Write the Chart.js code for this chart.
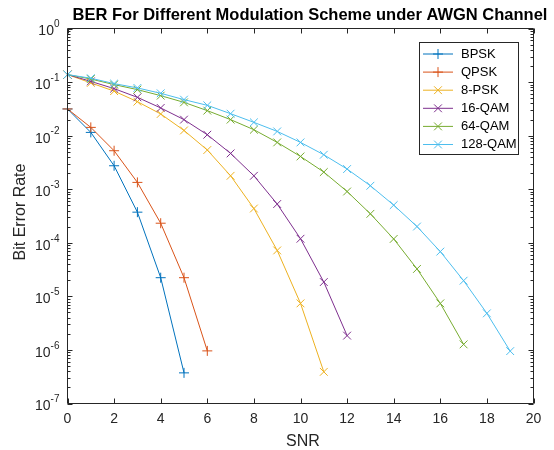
<!DOCTYPE html>
<html><head><meta charset="utf-8">
<script src="https://cdn.jsdelivr.net/npm/chart.js@4.4.0/dist/chart.umd.min.js"></script>
<style>html,body{margin:0;padding:0;background:#fff;overflow:hidden}</style>
</head><body>
<canvas id="c" width="554" height="450"></canvas>
<script>
// ---- data ----
const snr = [0,1,2,3,4,5,6,7,8,9,10,11,12,13,14,15,16,17,18,19];
const seriesNames = ['BPSK','QPSK','8-PSK','16-QAM','64-QAM','128-QAM'];
const bpsk   = [0.0315,0.0115,0.00274,3.73e-4,2.23e-5,3.73e-7];
const qpsk   = [0.0315,0.01426,0.00523,1.34e-3,2.32e-4,2.23e-5,9.6e-7];
const psk8   = [0.138,0.0965,0.0678,0.0431,0.0254,0.0125,0.00539,0.00178,4.36e-4,7.2e-5,7.4e-6,3.9e-7];
const qam16  = [0.138,0.103,0.0755,0.0519,0.0329,0.0199,0.0104,0.00466,0.00178,5.29e-4,1.19e-4,1.85e-5,1.85e-6];
const qam64  = [0.138,0.114,0.0897,0.0723,0.0558,0.0418,0.0293,0.0199,0.0129,0.00748,0.00409,0.00209,9.06e-4,3.47e-4,1.18e-4,3.25e-5,7.4e-6,1.27e-6];
const qam128 = [0.138,0.118,0.0936,0.0778,0.0617,0.047,0.0368,0.0257,0.0177,0.0120,0.00748,0.0044,0.00238,1.16e-3,5.05e-4,2.01e-4,6.84e-5,1.96e-5,4.82e-6,9.5e-7];
const xTicks = [0,2,4,6,8,10,12,14,16,18,20];
const yExponents = [0,-1,-2,-3,-4,-5,-6,-7];
const titleText = 'BER For Different Modulation Scheme under AWGN Channel';
const xLabel = 'SNR';
const yLabel = 'Bit Error Rate';

const allSeries = [bpsk,qpsk,psk8,qam16,qam64,qam128];
const colors = ['#0072BD','#D95319','#EDB120','#7E2F8E','#77AC30','#4DBEEE'];
const markers = ['cross','cross','crossRot','crossRot','crossRot','crossRot'];
const FONT = '"Liberation Sans", Arial, Helvetica, sans-serif';

function drawMarker(ctx, style, x, y, r){
  ctx.beginPath();
  if(style==='cross'){
    ctx.moveTo(x-r,y); ctx.lineTo(x+r,y); ctx.moveTo(x,y-r); ctx.lineTo(x,y+r);
  } else {
    const d=r*0.7071;
    ctx.moveTo(x-d,y-d); ctx.lineTo(x+d,y+d); ctx.moveTo(x-d,y+d); ctx.lineTo(x+d,y-d);
  }
  ctx.stroke();
}

const axesPlugin = {
  id:'matlabAxes',
  afterDraw(chart){
    const ctx=chart.ctx, a=chart.chartArea, xs=chart.scales.x, ys=chart.scales.y;
    ctx.save();
    ctx.strokeStyle='#262626'; ctx.lineWidth=1;
    ctx.beginPath();
    ctx.rect(a.left, a.top, a.right-a.left, a.bottom-a.top);
    xTicks.forEach(v=>{
      const px=Math.round(xs.getPixelForValue(v))+0.5;
      ctx.moveTo(px,a.bottom); ctx.lineTo(px,a.bottom-5);
      ctx.moveTo(px,a.top); ctx.lineTo(px,a.top+5);
    });
    yExponents.forEach(e=>{
      const py=Math.round(ys.getPixelForValue(Math.pow(10,e)))+0.5;
      ctx.moveTo(a.left,py); ctx.lineTo(a.left+5,py);
      ctx.moveTo(a.right,py); ctx.lineTo(a.right-5,py);
      if(e>-7){
        for(let m=2;m<=9;m++){
          const q=Math.round(ys.getPixelForValue(m*Math.pow(10,e-1)))+0.5;
          ctx.moveTo(a.left,q); ctx.lineTo(a.left+3,q);
          ctx.moveTo(a.right,q); ctx.lineTo(a.right-3,q);
        }
      }
    });
    ctx.stroke();

    // tick labels
    ctx.fillStyle='#262626';
    ctx.textBaseline='middle';
    ctx.textAlign='center';
    ctx.font='14px '+FONT;
    xTicks.forEach(v=>{
      ctx.fillText(String(v), xs.getPixelForValue(v), 419.5);
    });
    yExponents.forEach(e=>{
      const py=ys.getPixelForValue(Math.pow(10,e));
      const right=a.left-8;
      ctx.font='10px '+FONT;
      ctx.textAlign='right';
      const expStr = e===0 ? '0' : '-'+String(-e);
      const ew=ctx.measureText(expStr).width;
      ctx.fillText(expStr, right, py-4);
      ctx.font='14px '+FONT;
      ctx.fillText('10', right-ew, py+3);
    });

    // axis titles
    ctx.textAlign='center';
    ctx.font='16px '+FONT;
    ctx.fillText(xLabel, 303, 442);
    ctx.save();
    ctx.translate(21, 212);
    ctx.rotate(-Math.PI/2);
    ctx.fillText(yLabel, 0, 0);
    ctx.restore();

    // title
    ctx.fillStyle='#000';
    ctx.font='bold 16.5px '+FONT;
    ctx.fillText(titleText, 310, 15);

    // legend
    const lx=419.5, ly=42.5, lw=99, lh=112;
    ctx.fillStyle='#fff';
    ctx.fillRect(lx,ly,lw,lh);
    ctx.strokeStyle='#262626';
    ctx.strokeRect(lx,ly,lw,lh);
    ctx.font='13px '+FONT;
    ctx.textAlign='left';
    seriesNames.forEach((n,i)=>{
      const y=54+i*18.1;
      ctx.strokeStyle=colors[i]; ctx.lineWidth=1;
      ctx.beginPath(); ctx.moveTo(423,y); ctx.lineTo(453,y); ctx.stroke();
      drawMarker(ctx, markers[i], 438, y, markers[i]==='cross'?5:5.5);
      ctx.fillStyle='#000';
      ctx.fillText(n, 461, y);
    });
    ctx.restore();
  }
};

const datasets = allSeries.map((arr,i)=>({
  label: seriesNames[i],
  data: arr.map((v,k)=>({x:snr[k], y:v})),
  borderColor: colors[i],
  backgroundColor: colors[i],
  borderWidth: 1,
  pointStyle: markers[i],
  pointRadius: markers[i]==='cross'?5:5.5,
  pointBorderWidth: 1,
  pointBorderColor: colors[i],
  tension: 0,
  fill: false,
  clip: false,
  order: 6-i
}));

new Chart(document.getElementById('c'), {
  type:'line',
  data:{datasets},
  options:{
    responsive:false,
    animation:false,
    devicePixelRatio:1,
    events:[],
    layout:{padding:{left:67.5, right:20.5, top:28.5, bottom:46.5}},
    scales:{
      x:{type:'linear', min:0, max:20, display:false},
      y:{type:'logarithmic', min:1e-7, max:1, display:false}
    },
    plugins:{legend:{display:false}, tooltip:{enabled:false}, title:{display:false}}
  },
  plugins:[axesPlugin]
});
</script>
</body></html>
